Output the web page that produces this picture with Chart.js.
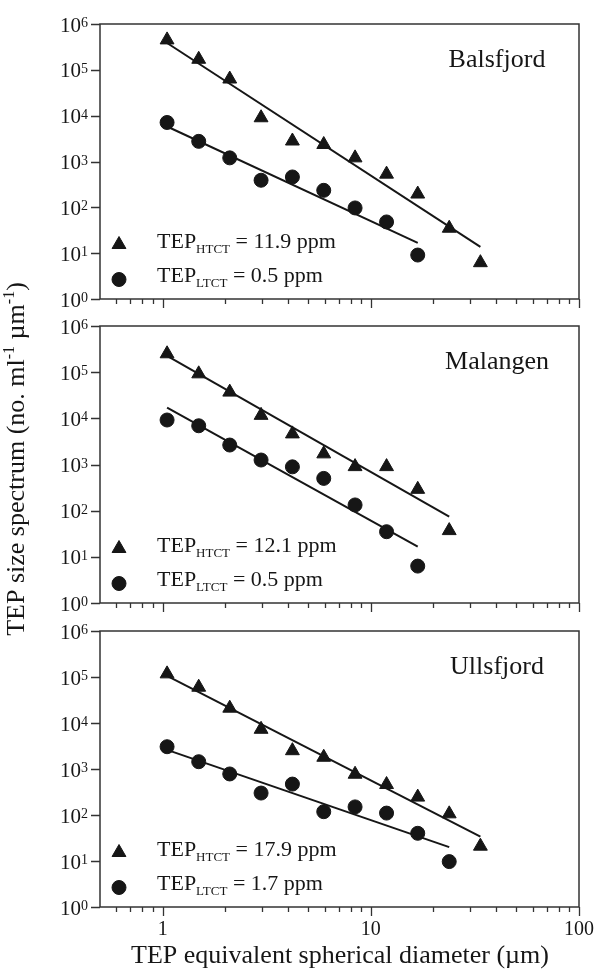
<!DOCTYPE html>
<html>
<head>
<meta charset="utf-8">
<script src="https://cdn.jsdelivr.net/npm/chart.js@4.4.1/dist/chart.umd.min.js"></script>
<style>
  html, body { margin: 0; padding: 0; background: #fff; }
  #wrap { position: relative; width: 597px; height: 969px; }
  #wrap canvas { position: absolute; left: 0; top: 0; }
</style>
</head>
<body>
<div id="wrap">
  <canvas id="p1" width="597" height="969"></canvas>
  <canvas id="p2" width="597" height="969"></canvas>
  <canvas id="p3" width="597" height="969"></canvas>
</div>
<script>
// size classes (equivalent spherical diameter, µm), shared by all fjords
const diameters = [1.05, 1.49, 2.1, 2.97, 4.2, 5.94, 8.4, 11.9, 16.8, 23.8, 33.6];

// Balsfjord
const balsHTCT = [4.5e5, 1.7e5, 6.3e4, 9.0e3, 2.8e3, 2.35e3, 1.2e3, 530, 195, 35, 6.2];
const balsLTCT = [7.1e3, 2.75e3, 1.2e3, 390, 460, 235, 97, 48, 9.1];
const balsFitHTCTx = [1.05, 33.6];
const balsFitHTCT = [3.85e5, 13.7];
const balsFitLTCTx = [1.05, 16.8];
const balsFitLTCT = [5.8e3, 16.7];

// Malangen
const malHTCT = [2.5e5, 9.2e4, 3.7e4, 1.16e4, 4.6e3, 1.7e3, 900, 900, 290, 37];
const malLTCT = [9.2e3, 6.9e3, 2.64e3, 1.25e3, 890, 500, 133, 35, 6.3];
const malFitHTCTx = [1.05, 23.8];
const malFitHTCT = [2.25e5, 74];
const malFitLTCTx = [1.05, 16.8];
const malFitLTCT = [1.7e4, 16.6];

// Ullsfjord
const ullHTCT = [1.17e5, 6.0e4, 2.1e4, 7.3e3, 2.5e3, 1.8e3, 770, 460, 245, 106, 21];
const ullLTCT = [3.05e3, 1.44e3, 780, 300, 470, 118, 150, 110, 40, 9.7];
const ullFitHTCTx = [1.05, 33.6];
const ullFitHTCT = [1.06e5, 33.7];
const ullFitLTCTx = [1.05, 23.8];
const ullFitLTCT = [2.6e3, 20];

// axis ticks
const yTicks = [1, 10, 100, 1e3, 1e4, 1e5, 1e6];
const yTickExp = ['0', '1', '2', '3', '4', '5', '6'];
const xMajor = [1, 10, 100];
const xMajorLabels = ['1', '10', '100'];
const xMinor = [0.6, 0.7, 0.8, 0.9, 2, 3, 4, 5, 6, 7, 8, 9, 20, 30, 40, 50, 60, 70, 80, 90];

const ink = '#161616';
const axisInk = '#333';
const serif = '"Liberation Serif", "Times New Roman", serif';

const pts = (xs, ys) => ys.map((v, i) => ({ x: xs[i], y: v }));

// text made of pieces: [text, size, baseline shift]
function rich(ctx, parts, x, y, align) {
  let w = 0;
  parts.forEach(([t, s]) => { ctx.font = s + 'px ' + serif; w += ctx.measureText(t).width; });
  let cx = align === 'center' ? x - w / 2 : align === 'right' ? x - w : x;
  parts.forEach(([t, s, dy]) => {
    ctx.font = s + 'px ' + serif;
    ctx.fillText(t, cx, y + (dy || 0));
    cx += ctx.measureText(t).width;
  });
}

const frame = {
  id: 'frame',
  afterDraw(chart, args, o) {
    const { ctx, chartArea: a, scales: { x, y } } = chart;
    ctx.save();
    ctx.textAlign = 'left';
    ctx.textBaseline = 'alphabetic';
    ctx.fillStyle = ink;

    // box
    ctx.strokeStyle = axisInk;
    ctx.lineWidth = 1.5;
    ctx.strokeRect(a.left, a.top, a.width, a.height);

    // ticks
    ctx.lineWidth = 1.3;
    ctx.beginPath();
    yTicks.forEach(v => {
      const py = Math.round(y.getPixelForValue(v)) + 0.5;
      ctx.moveTo(a.left - 9, py); ctx.lineTo(a.left, py);
    });
    xMajor.forEach(v => {
      const px = Math.round(x.getPixelForValue(v)) + 0.5;
      ctx.moveTo(px, a.bottom); ctx.lineTo(px, a.bottom + 9);
    });
    xMinor.forEach(v => {
      const px = Math.round(x.getPixelForValue(v)) + 0.5;
      ctx.moveTo(px, a.bottom); ctx.lineTo(px, a.bottom + 5);
    });
    ctx.stroke();

    // y tick labels
    yTicks.forEach((v, i) => {
      const py = y.getPixelForValue(v);
      rich(ctx, [['10', 21, 0], [yTickExp[i], 14, -4.5]], 88, py + 7.5, 'right');
    });

    // fjord name
    ctx.font = '26px ' + serif;
    ctx.textAlign = 'center';
    ctx.fillText(o.name, 497, a.top + 43);
    ctx.textAlign = 'left';

    // legend
    const mk = Chart.helpers.drawPoint;
    ctx.fillStyle = ink; ctx.strokeStyle = ink; ctx.lineWidth = 1;
    mk(ctx, { pointStyle: 'triangle', radius: 8, rotation: 0, borderWidth: 1 }, 119, a.bottom - 54.5);
    mk(ctx, { pointStyle: 'circle', radius: 7, rotation: 0, borderWidth: 1 }, 119, a.bottom - 19.5);
    rich(ctx, [['TEP', 22, 0], ['HTCT', 13, 5], [' = ' + o.htctLabel, 22, 0]], 157, a.bottom - 51, 'left');
    rich(ctx, [['TEP', 22, 0], ['LTCT', 13, 5], [' = ' + o.ltctLabel, 22, 0]], 157, a.bottom - 17, 'left');

    if (o.bottomAxis) {
      xMajor.forEach((v, i) => {
        rich(ctx, [[xMajorLabels[i], 20, 0]], x.getPixelForValue(v), a.bottom + 28, 'center');
      });
      rich(ctx, [['TEP equivalent spherical diameter (\u00b5m)', 26, 0]], 340, 963, 'center');
      ctx.translate(24, 459);
      ctx.rotate(-Math.PI / 2);
      rich(ctx, [['TEP size spectrum (no. ml', 26, 0], ['-1', 16, -10], [' \u00b5m', 26, 0], ['-1', 16, -10], [')', 26, 0]], 0, 0, 'center');
    }
    ctx.restore();
  }
};

const panels = [
  { id: 'p1', name: 'Balsfjord', top: 24, bottom: 299, htct: balsHTCT, ltct: balsLTCT,
    fitHx: balsFitHTCTx, fitH: balsFitHTCT, fitLx: balsFitLTCTx, fitL: balsFitLTCT,
    htctLabel: '11.9 ppm', ltctLabel: '0.5 ppm', bottomAxis: false },
  { id: 'p2', name: 'Malangen', top: 326, bottom: 603, htct: malHTCT, ltct: malLTCT,
    fitHx: malFitHTCTx, fitH: malFitHTCT, fitLx: malFitLTCTx, fitL: malFitLTCT,
    htctLabel: '12.1 ppm', ltctLabel: '0.5 ppm', bottomAxis: false },
  { id: 'p3', name: 'Ullsfjord', top: 631, bottom: 907, htct: ullHTCT, ltct: ullLTCT,
    fitHx: ullFitHTCTx, fitH: ullFitHTCT, fitLx: ullFitLTCTx, fitL: ullFitLTCT,
    htctLabel: '17.9 ppm', ltctLabel: '1.7 ppm', bottomAxis: true }
];

panels.forEach(p => {
  const line = { showLine: true, pointRadius: 0, borderColor: ink, borderWidth: 2, tension: 0 };
  new Chart(document.getElementById(p.id), {
    type: 'scatter',
    data: {
      datasets: [
        { data: pts(diameters, p.htct), pointStyle: 'triangle', pointRadius: 8,
          backgroundColor: ink, borderColor: ink, borderWidth: 1 },
        { data: pts(diameters, p.ltct), pointStyle: 'circle', pointRadius: 7,
          backgroundColor: ink, borderColor: ink, borderWidth: 1 },
        Object.assign({ data: pts(p.fitHx, p.fitH) }, line),
        Object.assign({ data: pts(p.fitLx, p.fitL) }, line)
      ]
    },
    options: {
      responsive: false,
      animation: false,
      events: [],
      layout: { padding: { left: 100, right: 18, top: p.top, bottom: 969 - p.bottom } },
      plugins: {
        legend: { display: false },
        tooltip: { enabled: false },
        frame: { name: p.name, htctLabel: p.htctLabel, ltctLabel: p.ltctLabel, bottomAxis: p.bottomAxis }
      },
      scales: {
        x: { type: 'logarithmic', min: 0.5, max: 100, display: false },
        y: { type: 'logarithmic', min: 1, max: 1e6, display: false }
      }
    },
    plugins: [frame]
  });
});
</script>
</body>
</html>
